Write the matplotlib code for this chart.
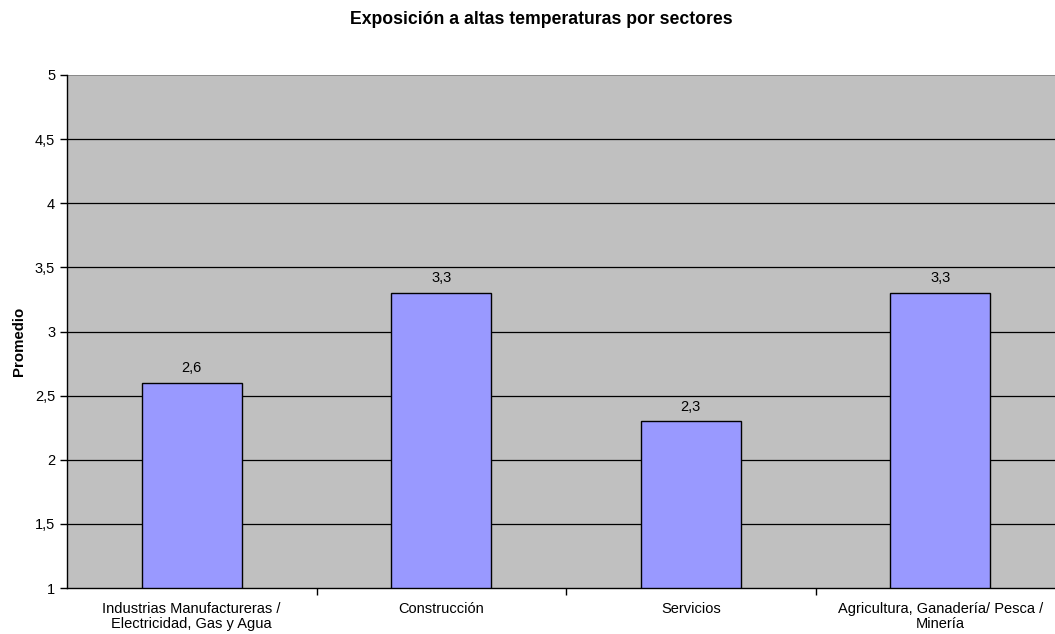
import matplotlib
matplotlib.use("Agg")
import matplotlib.pyplot as plt
import numpy as np

plt.rcParams["font.family"] = ["Liberation Sans", "DejaVu Sans"]

categories = [
    "Industrias Manufactureras /\nElectricidad, Gas y Agua",
    "Construcción",
    "Servicios",
    "Agricultura, Ganadería/ Pesca /\nMinería",
]
values = [2.6, 3.3, 2.3, 3.3]
value_labels = ["2,6", "3,3", "2,3", "3,3"]
yticks = [1, 1.5, 2, 2.5, 3, 3.5, 4, 4.5, 5]
ytick_labels = ["1", "1,5", "2", "2,5", "3", "3,5", "4", "4,5", "5"]

fig = plt.figure(figsize=(10.55, 6.34), dpi=100)
# plot area runs slightly past the right edge of the image
ax = fig.add_axes([67 / 1055, 46 / 634, 998 / 1055, (588 - 75) / 634])
ax.set_facecolor("#C0C0C0")

x = np.arange(len(categories))
ax.bar(x, [v - 1 for v in values], bottom=1, width=0.4,
       color="#9999FF", edgecolor="black", linewidth=1, zorder=3)
for xi, v, lab in zip(x, values, value_labels):
    ax.text(xi, v + 0.06, lab, ha="center", va="bottom", fontsize=10.5)

ax.set_xlim(-0.5, len(categories) - 0.5)
ax.set_ylim(1, 5)
ax.set_yticks(yticks)
ax.set_yticklabels(ytick_labels, fontsize=10.5)
for y in yticks[1:-1]:
    ax.axhline(y, color="black", linewidth=0.9, zorder=1)
ax.axhline(5, color="#808080", linewidth=1.2, zorder=1)

ax.set_xticks(x)
ax.set_xticklabels(categories, fontsize=10.5, linespacing=1.1)
ax.tick_params(axis="x", which="major", length=0, pad=10)
ax.set_xticks(np.arange(0.5, len(categories) - 0.5, 1), minor=True)
ax.tick_params(axis="x", which="minor", length=5, width=1)
ax.tick_params(axis="y", length=5, width=1)

ax.spines["top"].set_visible(False)
ax.spines["right"].set_visible(False)
ax.spines["left"].set_linewidth(1)
ax.spines["bottom"].set_linewidth(1)

ax.set_ylabel("Promedio", fontsize=10.8, fontweight="bold")
ax.yaxis.set_label_coords(-0.041, 0.48)
fig.text(541.5 / 1055, 1 - 19 / 634, "Exposición a altas temperaturas por sectores",
         ha="center", va="center", fontsize=12.7, fontweight="bold")

fig.savefig("out.png", dpi=100)
